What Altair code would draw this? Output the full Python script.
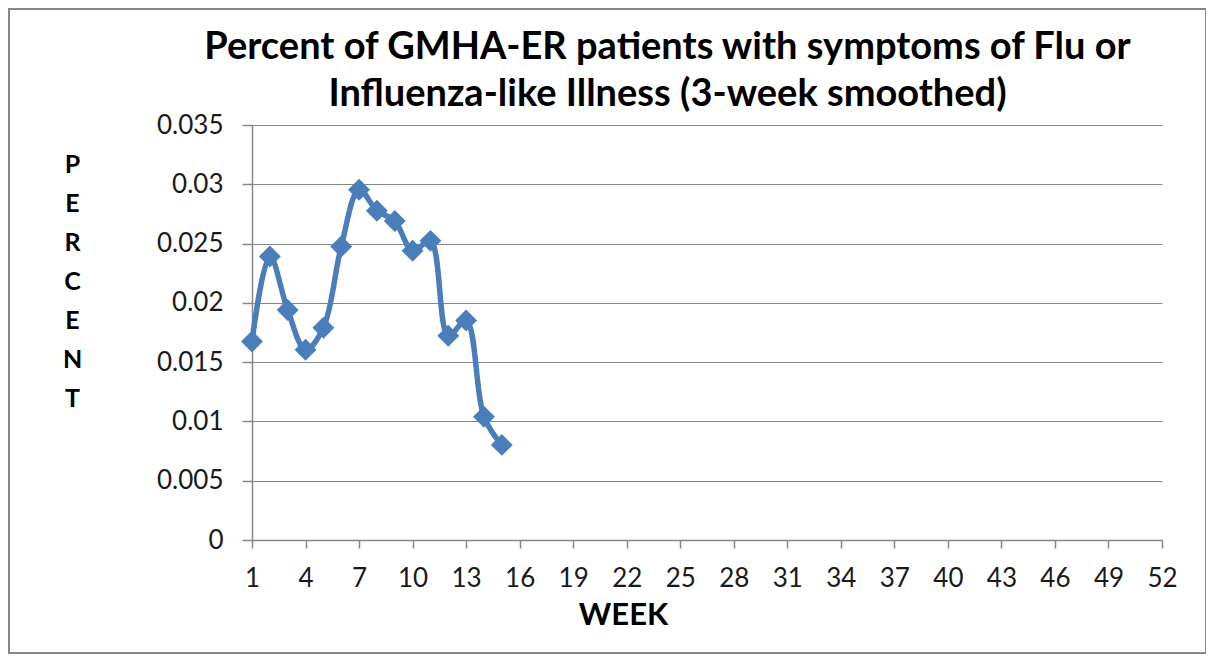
import altair as alt
import pandas as pd

# ---- data ----
weeks = [1, 2, 3, 4, 5, 6, 7, 8, 9, 10, 11, 12, 13, 14, 15]
percent = [0.01674, 0.02391, 0.0194, 0.01604, 0.0179, 0.02475, 0.02954,
           0.02777, 0.0269, 0.02439, 0.02523, 0.01722, 0.01851, 0.0104, 0.00802]
x_ticks = [1, 4, 7, 10, 13, 16, 19, 22, 25, 28, 31, 34, 37, 40, 43, 46, 49, 52]
y_ticks = [0, 0.005, 0.01, 0.015, 0.02, 0.025, 0.03, 0.035]
title_line1 = "Percent of GMHA-ER patients with symptoms of Flu or"
title_line2 = "Influenza-like Illness (3-week smoothed)"
x_title = "WEEK"
y_title_letters = ["P", "E", "R", "C", "E", "N", "T"]

df = pd.DataFrame({"week": weeks, "percent": percent})

W, H = 910, 415
BLUE = "#4a7ebb"
GRAY = "#878787"
FONT = "Lato"

x_enc = alt.X(
    "week:Q",
    scale=alt.Scale(domain=[1, 52], nice=False, zero=False),
    axis=alt.Axis(
        values=x_ticks, grid=False, format="d", labelFlush=False,
        tickSize=8, labelPadding=17,
        title=x_title, titleFont=FONT, titleFontSize=31, titleFontWeight="bold",
        titleColor="#000", titleX=371, titleY=75, titleBaseline="middle",
    ),
)
y_enc = alt.Y(
    "percent:Q",
    scale=alt.Scale(domain=[0, 0.035], nice=False),
    axis=alt.Axis(
        values=y_ticks, format="~g", grid=True,
        tickSize=10, labelPadding=19,
        title=y_title_letters, titleAngle=0, titleX=-180, titleY=27,
        titleAlign="center", titleBaseline="top", titleLineHeight=39,
        titleFont=FONT, titleFontSize=25, titleFontWeight="bold", titleColor="#000",
    ),
)

base = alt.Chart(df).encode(x=x_enc, y=y_enc)
line = base.mark_line(color=BLUE, strokeWidth=5.5, interpolate="catmull-rom")
pts = base.mark_point(shape="diamond", filled=True, size=480, color=BLUE, opacity=1)

one = alt.Data(values=[{}])
t1 = alt.Chart(one).mark_text(
    text=title_line1, font=FONT, fontSize=38, fontWeight="bold",
    align="center", baseline="middle", color="#000",
).encode(x=alt.value(415.5), y=alt.value(-77))
t2 = alt.Chart(one).mark_text(
    text=title_line2, font=FONT, fontSize=38, fontWeight="bold",
    align="center", baseline="middle", color="#000",
).encode(x=alt.value(415.5), y=alt.value(-30))
border = alt.Chart(one).mark_rect(
    filled=False, stroke=GRAY, strokeWidth=2,
).encode(x=alt.value(-243), x2=alt.value(954), y=alt.value(-116), y2=alt.value(528))

chart = (
    alt.layer(border, line, pts, t1, t2)
    .properties(
        width=W, height=H,
        autosize=alt.AutoSizeParams(type="none"),
        padding={"left": 244, "top": 117, "right": 44, "bottom": 114},
        background="white",
    )
    .configure_view(stroke=None)
    .configure_axis(
        labelFont=FONT, labelFontSize=26, labelColor="#1a1a1a",
        domainColor=GRAY, domainWidth=1.5, tickColor=GRAY, tickWidth=1.5,
        gridColor=GRAY, gridWidth=1.2,
    )
)

chart.save("out.html", embed_options={"renderer": "svg", "actions": False})
